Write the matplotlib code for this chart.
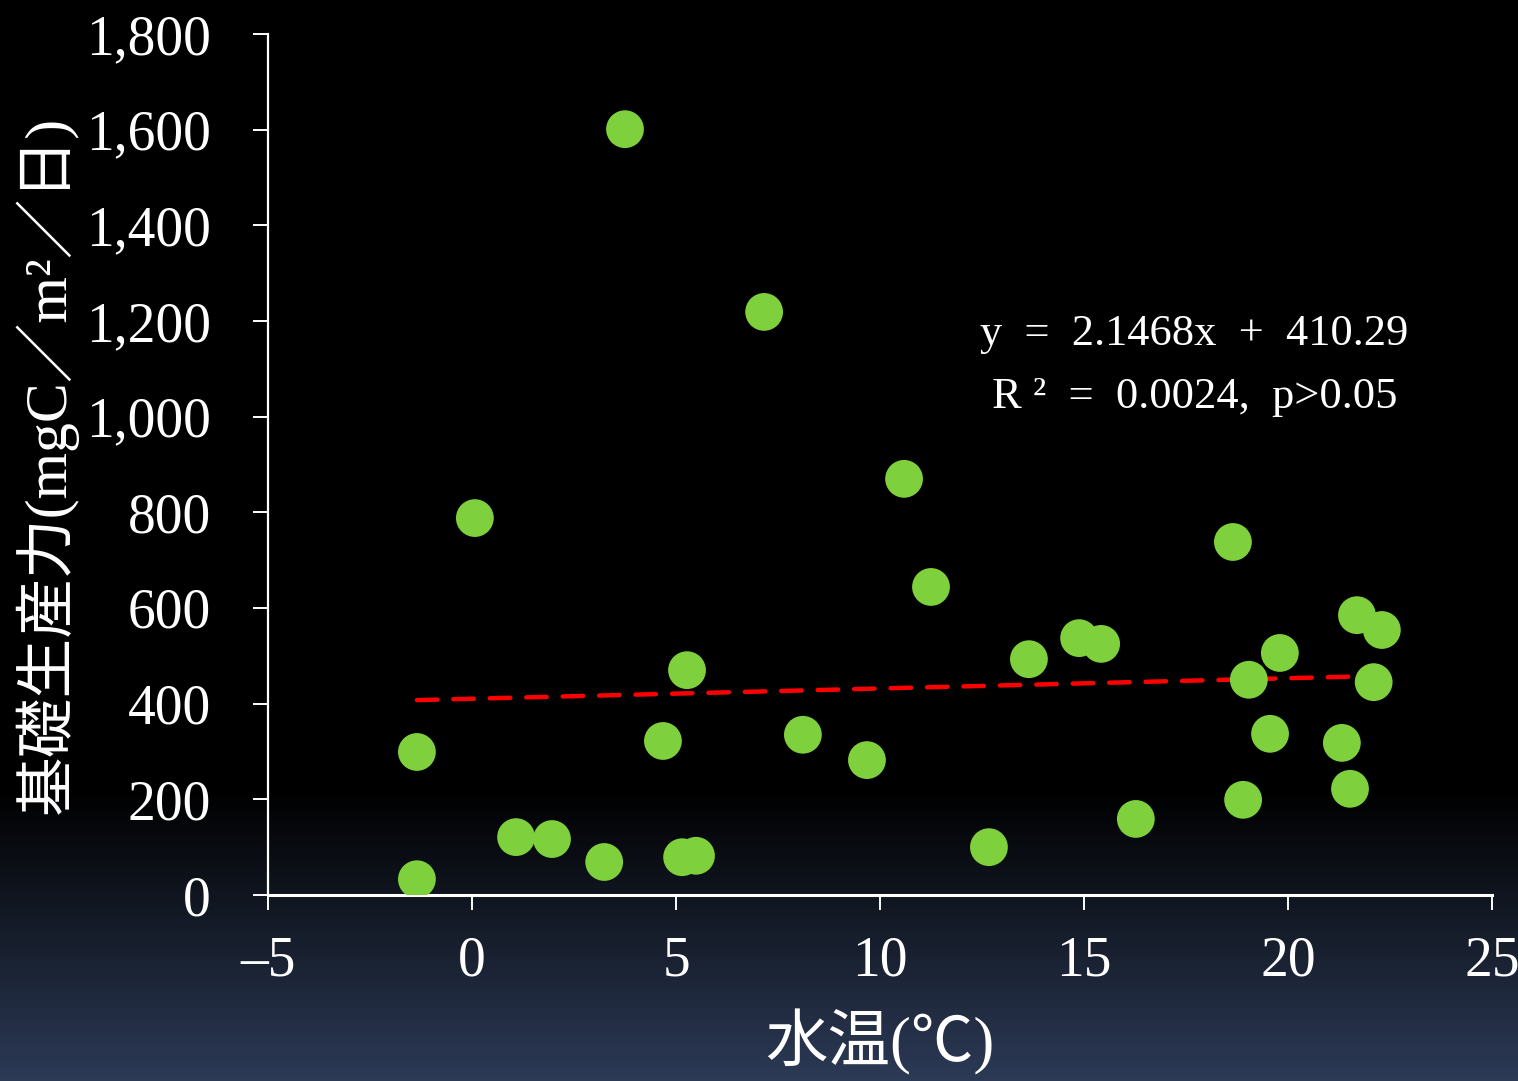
import numpy as np
import matplotlib
matplotlib.use("Agg")
import matplotlib.pyplot as plt
from matplotlib.colors import LinearSegmentedColormap

# water temperature (deg C) vs basic production (mgC/m2/day)
water_temp = [-1.35, -1.35, 0.07, 1.08, 1.96, 3.24, 3.75, 4.68, 5.27, 5.15, 5.49,
              7.16, 8.11, 9.68, 10.59, 11.25, 12.67, 13.65, 14.88, 15.42, 16.27,
              18.65, 18.9, 19.04, 19.56, 19.8, 21.32, 21.52, 21.69, 22.1, 22.3]
production = [299, 33, 788, 121, 117, 69, 1601, 322, 470, 79, 82,
              1219, 335, 282, 870, 644, 100, 493, 537, 525, 159,
              738, 199, 450, 337, 506, 318, 222, 585, 445, 554]

slope = 2.1468
intercept = 410.29
eq_lines = ["y  =  2.1468x  +  410.29", "R ²  =  0.0024,  p>0.05"]

x_ticks = [-5, 0, 5, 10, 15, 20, 25]
x_tick_labels = ["–5", "0", "5", "10", "15", "20", "25"]
y_ticks = [0, 200, 400, 600, 800, 1000, 1200, 1400, 1600, 1800]
y_tick_labels = ["0", "200", "400", "600", "800", "1,000", "1,200", "1,400", "1,600", "1,800"]

fonts = ["Liberation Serif", "Noto Sans CJK JP", "DejaVu Sans"]
plt.rcParams['font.family'] = fonts

W, H = 1518, 1081
fig = plt.figure(figsize=(W / 100, H / 100), dpi=100)
fig.patch.set_facecolor("black")

# background gradient: black on top, dark navy at the bottom
bg = fig.add_axes([0, 0, 1, 1], zorder=-10)
bg.axis("off")
rows = np.linspace(0, 1, H)
start = 790 / H
grad = np.clip((rows - start) / (1 - start), 0, 1)[:, None]
cmap = LinearSegmentedColormap.from_list("bg", ["#000000", "#2c3a56"])
bg.imshow(grad, aspect="auto", cmap=cmap, extent=[0, 1, 0, 1], vmin=0, vmax=1)

ax = fig.add_axes([268 / W, 186 / H, (1492 - 268) / W, (895 - 34) / H])
ax.set_facecolor("none")

ax.scatter(water_temp, production, s=740, color="#7ed03c", edgecolors="none", zorder=3)

xl = np.array([min(water_temp), max(water_temp)])
ax.plot(xl, slope * xl + intercept, color="#ff0000", lw=3.2, dashes=[4.6, 3.6],
        dash_capstyle="round", zorder=2)

ax.set_xlim(-5, 25)
ax.set_ylim(0, 1800)
ax.set_xticks(x_ticks)
ax.set_xticklabels(x_tick_labels)
ax.set_yticks(y_ticks)
ax.set_yticklabels(y_tick_labels)

for s in ["top", "right"]:
    ax.spines[s].set_visible(False)
ax.spines["left"].set_color("white")
ax.spines["left"].set_linewidth(1.6)
ax.spines["bottom"].set_color("white")
ax.spines["bottom"].set_linewidth(2.2)
ax.tick_params(axis="both", colors="white", direction="out", length=11, width=1.4,
               labelsize=40)
ax.tick_params(axis="y", pad=30)
ax.tick_params(axis="x", pad=18)

ax.set_xlabel("水温(℃)", color="white", fontsize=45, labelpad=16)
ax.set_ylabel("基礎生産力(mgC／m²／日)", color="white", fontsize=43, labelpad=6)

ax.text(0.757, 0.652, eq_lines[0], transform=ax.transAxes, color="white",
        fontsize=32, ha="center", va="center")
ax.text(0.757, 0.578, eq_lines[1], transform=ax.transAxes, color="white",
        fontsize=32, ha="center", va="center")

fig.savefig("out.png", dpi=100, facecolor=fig.get_facecolor())
